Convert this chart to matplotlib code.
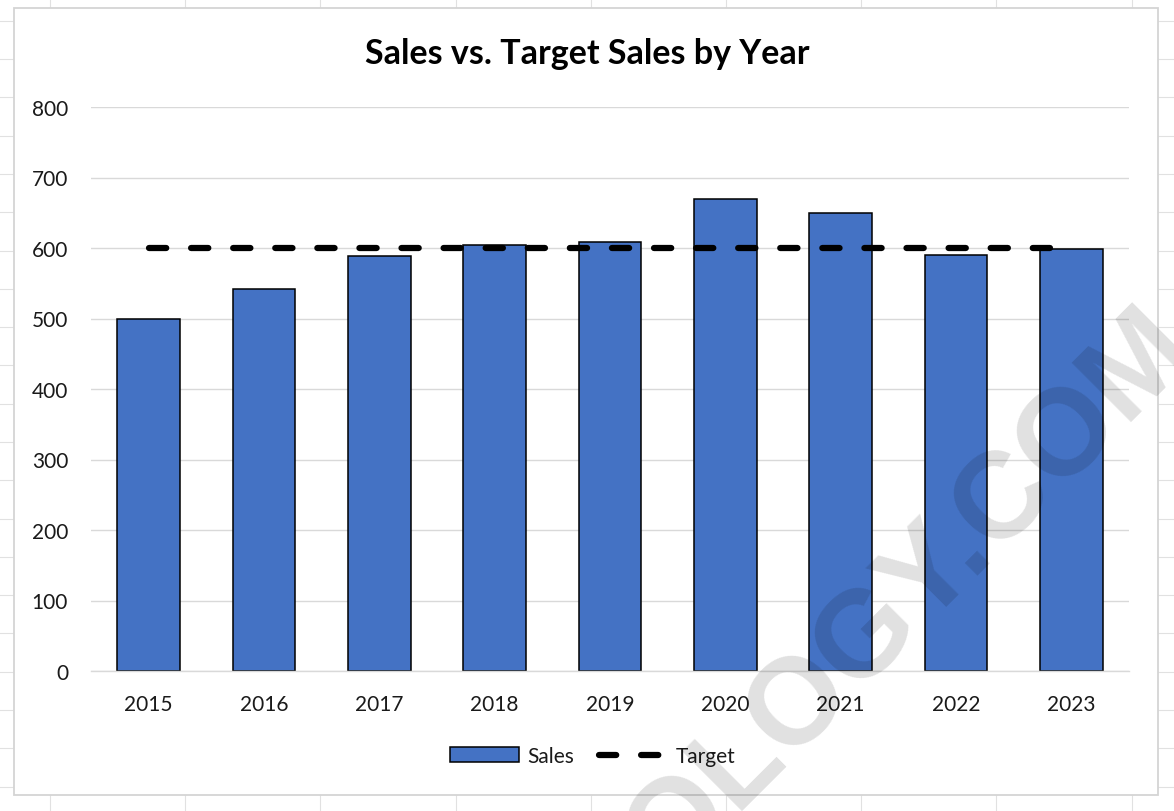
import matplotlib.pyplot as plt
from matplotlib.patches import Rectangle

# data
years = ['2015', '2016', '2017', '2018', '2019', '2020', '2021', '2022', '2023']
sales = [500, 542, 589, 604, 609, 670, 650, 590, 598]
target = [600, 600, 600, 600, 600, 600, 600, 600, 600]

plt.rcParams['font.family'] = ['Lato', 'DejaVu Sans']
plt.rcParams['lines.scale_dashes'] = False

W, H = 1174, 812
fig = plt.figure(figsize=(W / 100, H / 100), dpi=100)

## background: worksheet grid + chart area box (pixel coords)
bg = fig.add_axes([0, 0, 1, 1])
bg.set_xlim(0, W)
bg.set_ylim(H, 0)
bg.axis('off')
col_x = 50.0
while col_x < W:
    bg.axvline(col_x, color='#e1e1e1', linewidth=0.8, zorder=0)
    col_x += 135.2
row_y = 21.7
while row_y < H:
    bg.axhline(row_y, color='#e1e1e1', linewidth=0.8, zorder=0)
    row_y += 38.3
bg.add_patch(Rectangle((14, 9), 1144, 787, facecolor='white',
                       edgecolor='#d4d4d4', linewidth=1.3, zorder=1))

## main chart
ax = fig.add_axes([91 / W, 1 - 672 / H, (1129 - 91) / W, (672 - 108) / H])
ax.set_facecolor('none')
x = list(range(len(years)))
bars = ax.bar(x, sales, width=0.545, color='#4472C4', edgecolor='black',
              linewidth=1.1, label='Sales', zorder=2)
line, = ax.plot(x, target, color='black', linewidth=4.5, dashes=(12.4, 17.9),
                dash_capstyle='round', label='Target', zorder=3)

ax.set_xlim(-0.5, len(years) - 0.5)
ax.set_ylim(0, 800)
ax.set_yticks(range(0, 801, 100))
ax.set_xticks(x)
ax.set_xticklabels(years)
ax.grid(axis='y', color='#d9d9d9', linewidth=1.0, zorder=0)
ax.set_axisbelow(True)
for s in ['top', 'right', 'left']:
    ax.spines[s].set_visible(False)
ax.spines['bottom'].set_color('#d9d9d9')
ax.spines['bottom'].set_linewidth(1.0)
ax.tick_params(axis='both', length=0, labelsize=15, colors='#1a1a1a')
ax.tick_params(axis='y', pad=16.5)
ax.tick_params(axis='x', pad=16.5)

fig.text(0.5, 1 - 54 / H, 'Sales vs. Target Sales by Year', ha='center',
         va='center', fontsize=24.5, fontweight='bold', color='black')

fig.legend(handles=[bars, line], labels=['Sales', 'Target'], loc='center',
           bbox_to_anchor=(0.505, 1 - 757 / H), ncol=2,
           frameon=False, fontsize=15, handlelength=3.3, handleheight=0.72,
           handletextpad=0.4, columnspacing=1.2, labelcolor='#1a1a1a')

# watermark
fig.text(910 / W, 1 - 594 / H, 'OLOGY.COM', rotation=45, rotation_mode='anchor',
         ha='center', va='center', fontsize=88, fontweight='bold',
         family='Liberation Sans', color='black', alpha=0.12, zorder=10)

plt.savefig('out.png', dpi=100)
